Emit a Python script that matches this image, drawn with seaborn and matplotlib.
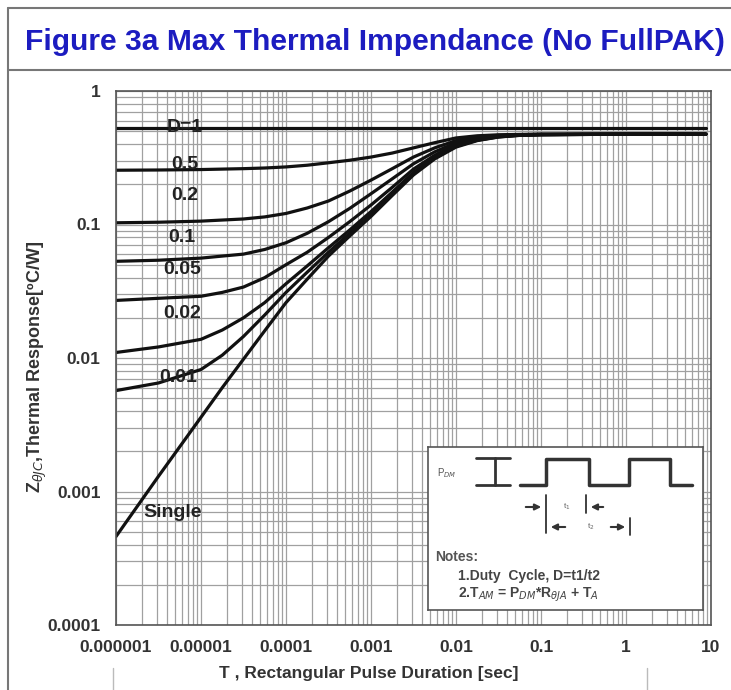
import numpy as np
import pandas as pd
import matplotlib
matplotlib.use("Agg")
import matplotlib.pyplot as plt
from matplotlib.lines import Line2D
from matplotlib.ticker import LogLocator, NullFormatter
import seaborn as sns

# pulse duration [sec]
t = [1e-6, 3.16e-6, 1e-5, 1.78e-5, 3.16e-5, 5.62e-5, 1e-4, 1.78e-4, 3.16e-4, 5.62e-4,
     1e-3, 1.78e-3, 3.16e-3, 5.62e-3, 1e-2, 1.78e-2, 3.16e-2, 5.62e-2, 0.1, 1, 8.7]

# thermal response Z [C/W] per duty cycle
z_d1 = [0.525] * 21
z_d05 = [0.255, 0.256, 0.258, 0.26, 0.262, 0.265, 0.27, 0.278, 0.29, 0.303,
         0.32, 0.343, 0.375, 0.41, 0.445, 0.462, 0.47, 0.473, 0.475, 0.475, 0.475]
z_d02 = [0.103, 0.104, 0.106, 0.108, 0.11, 0.114, 0.121, 0.133, 0.15, 0.178,
         0.215, 0.262, 0.32, 0.375, 0.425, 0.452, 0.465, 0.471, 0.474, 0.475, 0.475]
z_d01 = [0.053, 0.054, 0.056, 0.058, 0.06, 0.065, 0.073, 0.086, 0.105, 0.132,
         0.17, 0.22, 0.285, 0.35, 0.41, 0.443, 0.461, 0.469, 0.473, 0.475, 0.475]
z_d005 = [0.027, 0.028, 0.029, 0.031, 0.034, 0.04, 0.05, 0.062, 0.08, 0.105,
          0.14, 0.19, 0.26, 0.33, 0.40, 0.437, 0.458, 0.468, 0.472, 0.475, 0.475]
z_d002 = [0.011, 0.0121, 0.0138, 0.0162, 0.02, 0.026, 0.036, 0.049, 0.067, 0.091,
          0.125, 0.175, 0.245, 0.32, 0.39, 0.43, 0.455, 0.467, 0.471, 0.475, 0.475]
z_d001 = [0.0057, 0.0065, 0.0082, 0.0105, 0.0145, 0.021, 0.031, 0.044, 0.062, 0.086,
          0.12, 0.17, 0.24, 0.315, 0.385, 0.428, 0.453, 0.466, 0.47, 0.475, 0.475]
z_single = [0.00046, 0.0013, 0.0036, 0.006, 0.0098, 0.016, 0.026, 0.039, 0.058, 0.082,
            0.115, 0.165, 0.235, 0.31, 0.38, 0.425, 0.452, 0.465, 0.47, 0.475, 0.475]

curve_names = ["D=1", "0.5", "0.2", "0.1", "0.05", "0.02", "0.01", "Single"]
curve_values = [z_d1, z_d05, z_d02, z_d01, z_d005, z_d002, z_d001, z_single]

x_ticks = [1e-6, 1e-5, 1e-4, 1e-3, 1e-2, 1e-1, 1, 10]
x_tick_labels = ["0.000001", "0.00001", "0.0001", "0.001", "0.01", "0.1", "1", "10"]
y_ticks = [1e-4, 1e-3, 1e-2, 1e-1, 1]
y_tick_labels = ["0.0001", "0.001", "0.01", "0.1", "1"]

df = pd.concat(
    [pd.DataFrame({"t": t, "z": v, "curve": n}) for n, v in zip(curve_names, curve_values)],
    ignore_index=True,
)

sns.set_style("white")
plt.rcParams["font.family"] = ["Liberation Sans", "DejaVu Sans"]

W, H = 731, 690
fig = plt.figure(figsize=(W / 100, H / 100), dpi=100)
ax = fig.add_axes([116 / W, 1 - 625 / H, 595 / W, 534 / H])

sns.lineplot(data=df, x="t", y="z", hue="curve", palette=["#111111"] * len(curve_names),
             legend=False, linewidth=2.3, estimator=None, sort=False, ax=ax)

ax.set_xscale("log")
ax.set_yscale("log")
ax.set_xlim(1e-6, 10)
ax.set_ylim(1e-4, 1)

ax.set_xticks(x_ticks)
ax.set_xticklabels(x_tick_labels)
ax.set_yticks(y_ticks)
ax.set_yticklabels(y_tick_labels)
ax.xaxis.set_minor_locator(LogLocator(base=10, subs=np.arange(2, 10), numticks=20))
ax.yaxis.set_minor_locator(LogLocator(base=10, subs=np.arange(2, 10), numticks=20))
ax.xaxis.set_minor_formatter(NullFormatter())
ax.yaxis.set_minor_formatter(NullFormatter())
ax.tick_params(which="major", length=7, width=1, color="#555555", labelsize=12.5,
               labelcolor="#333333", pad=4)
ax.tick_params(which="minor", length=0)
for lab in ax.get_xticklabels() + ax.get_yticklabels():
    lab.set_fontweight("bold")

ax.grid(True, which="both", color="#a0a0a0", linewidth=0.9)
for s in ax.spines.values():
    s.set_color("#555555")
    s.set_linewidth(1.2)

ax.set_xlabel("T , Rectangular Pulse Duration [sec]", fontsize=12.5, fontweight="bold", color="#333333")
ax.set_ylabel("Z$_{\\theta JC}$,Thermal Response[ºC/W]", fontsize=13, fontweight="bold", color="#333333")
ax.xaxis.set_label_coords(0.425, -0.09)
ax.xaxis.label.set_va("center")
ax.yaxis.set_label_coords(-0.132, 0.483)
ax.yaxis.label.set_va("center")

# curve labels
label_pos = [(6.4e-6, 0.53), (6.4e-6, 0.28), (6.4e-6, 0.166), (6.0e-6, 0.0806),
             (6.0e-6, 0.0457), (6.0e-6, 0.0217), (5.4e-6, 0.0071), (4.6e-6, 0.00070)]
for name, (lx, ly) in zip(curve_names, label_pos):
    ax.text(lx, ly, name, fontsize=14, fontweight="bold", color="#222222",
            ha="center", va="center", zorder=5)

# inset with pulse diagram and notes (pixel coordinates of the box)
iax = fig.add_axes([428 / W, 1 - 610 / H, 275 / W, 163 / H])
iax.set_zorder(4)
iax.set_xlim(0, 275)
iax.set_ylim(163, 0)
iax.set_xticks([])
iax.set_yticks([])
iax.set_facecolor("white")
for s in iax.spines.values():
    s.set_color("#555555")
    s.set_linewidth(1.2)
ink = "#333333"
iax.text(9, 26, "P$_{DM}$", fontsize=7, color="#555555", va="center")
iax.plot([67, 67], [11, 38], color=ink, lw=2)
iax.plot([48, 82], [11, 11], color=ink, lw=2)
iax.plot([48, 82], [38, 38], color=ink, lw=2)
iax.plot([92, 118, 118, 161, 161, 201, 201, 242, 242, 264],
         [38, 38, 12, 12, 38, 38, 12, 12, 38, 38], color=ink, lw=2.5)
iax.plot([118, 118], [48, 86], color=ink, lw=1.3)
iax.plot([158, 158], [48, 66], color=ink, lw=1.3)
iax.plot([202, 202], [71, 88], color=ink, lw=1.3)
arrow = dict(arrowstyle="-|>", color=ink, lw=1.5, mutation_scale=9)
iax.annotate("", xy=(116, 60), xytext=(95, 60), arrowprops=arrow)
iax.annotate("", xy=(160, 60), xytext=(178, 60), arrowprops=arrow)
iax.annotate("", xy=(120, 80), xytext=(140, 80), arrowprops=arrow)
iax.annotate("", xy=(200, 80), xytext=(180, 80), arrowprops=arrow)
iax.text(139, 60, "t$_1$", fontsize=6, color="#666666", ha="center", va="center")
iax.text(163, 80, "t$_2$", fontsize=6, color="#666666", ha="center", va="center")
iax.text(7, 110, "Notes:", fontsize=10, fontweight="bold", color="#555555", va="center")
iax.text(30, 129, "1.Duty  Cycle, D=t1/t2", fontsize=10, fontweight="bold", color="#444444", va="center")
iax.text(30, 148, "2.T$_{AM}$ = P$_{DM}$*R$_{\\theta JA}$ + T$_A$", fontsize=10, fontweight="bold",
         color="#444444", va="center")

# title and page frame
fig.text(25 / W, 1 - 42 / H, "Figure 3a Max Thermal Impendance (No FullPAK)", fontsize=21.6,
         fontweight="bold", color="#1c1cc0", ha="left", va="center")
frame = "#777777"
fig.add_artist(Line2D([8 / W, 1], [1 - 8 / H, 1 - 8 / H], color=frame, lw=1.5, transform=fig.transFigure))
fig.add_artist(Line2D([8 / W, 1], [1 - 70 / H, 1 - 70 / H], color=frame, lw=1.5, transform=fig.transFigure))
fig.add_artist(Line2D([8 / W, 8 / W], [0, 1 - 8 / H], color=frame, lw=1.5, transform=fig.transFigure))
fig.add_artist(Line2D([113 / W, 113 / W], [0, 1 - 668 / H], color="#bbbbbb", lw=1, transform=fig.transFigure))
fig.add_artist(Line2D([647 / W, 647 / W], [0, 1 - 668 / H], color="#bbbbbb", lw=1, transform=fig.transFigure))

fig.savefig("out.png", dpi=100)
